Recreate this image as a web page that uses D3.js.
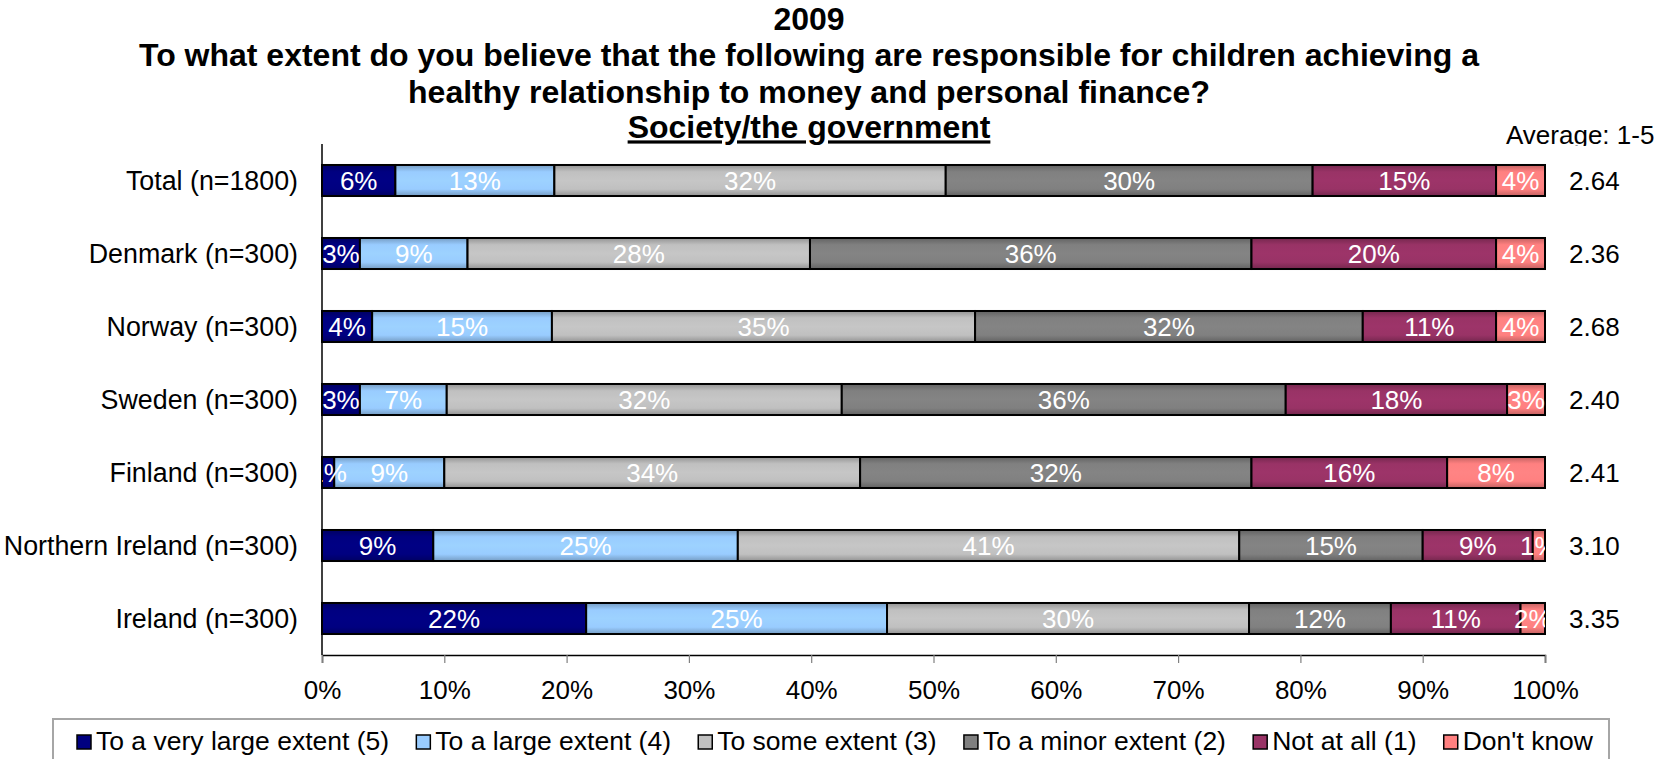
<!DOCTYPE html>
<html>
<head>
<meta charset="utf-8">
<script src="https://cdn.jsdelivr.net/npm/d3@7"></script>
<style>
  html, body { margin: 0; padding: 0; background: #ffffff; }
  svg { display: block; font-family: "Liberation Sans", Arial, sans-serif; }
</style>
</head>
<body>
<svg id="chart" width="1657" height="759"></svg>
<script>
// Survey rows, top to bottom
const categories = [
  "Total (n=1800)",
  "Denmark (n=300)",
  "Norway (n=300)",
  "Sweden (n=300)",
  "Finland (n=300)",
  "Northern Ireland (n=300)",
  "Ireland (n=300)"
];

// Answer options, stacked left to right
const seriesNames = [
  "To a very large extent (5)",
  "To a large extent (4)",
  "To some extent (3)",
  "To a minor extent (2)",
  "Not at all (1)",
  "Don't know"
];

// Share of respondents (%) per answer, one value per row
const veryLarge = [6.0, 3.1, 4.1, 3.1, 1.0, 9.1, 21.6];
const large     = [13.0, 8.8, 14.7, 7.1, 9.0, 24.9, 24.6];
const some      = [32.0, 28.0, 34.6, 32.3, 34.0, 41.0, 29.6];
const minor     = [30.0, 36.1, 31.7, 36.3, 32.0, 15.0, 11.6];
const notAtAll  = [15.0, 20.0, 10.9, 18.1, 16.0, 9.0, 10.6];
const dontKnow  = [4.0, 4.0, 4.0, 3.1, 8.0, 1.0, 2.0];

// Mean score on the 1-5 scale per row
const averages = [2.64, 2.36, 2.68, 2.40, 2.41, 3.10, 3.35];

const xTicks = [0, 10, 20, 30, 40, 50, 60, 70, 80, 90, 100];

const seriesValues = [veryLarge, large, some, minor, notAtAll, dontKnow];
const colors = ["#000080", "#99CCFF", "#C0C0C0", "#808080", "#993366", "#FF8080"];

const rows = categories.map((c, i) => {
  const r = { category: c };
  seriesNames.forEach((s, j) => { r[s] = seriesValues[j][i]; });
  return r;
});

const svg = d3.select("#chart");
const margin = { left: 322, right: 1545, top: 144, bottom: 655 };

const x = d3.scaleLinear().domain([0, 100]).range([margin.left, margin.right]);
const y = d3.scaleBand().domain(categories)
  .range([margin.top, margin.bottom])
  .paddingInner(0.575).paddingOuter(0.2875);

const defs = svg.append("defs");

// Shaded fill for each series: darker top and bottom edges
colors.forEach((c, i) => {
  const g = defs.append("linearGradient")
    .attr("id", "grad" + i)
    .attr("x1", 0).attr("y1", 0).attr("x2", 0).attr("y2", 1);
  const base = d3.color(c);
  g.append("stop").attr("offset", "0%").attr("stop-color", base.darker(0.75));
  g.append("stop").attr("offset", "22%").attr("stop-color", base);
  g.append("stop").attr("offset", "50%").attr("stop-color", d3.color(c).brighter(0.08));
  g.append("stop").attr("offset", "78%").attr("stop-color", base);
  g.append("stop").attr("offset", "100%").attr("stop-color", base.darker(0.75));
});

defs.append("clipPath").attr("id", "plotClip")
  .append("rect")
  .attr("x", margin.left).attr("y", margin.top)
  .attr("width", margin.right - margin.left)
  .attr("height", margin.bottom - margin.top);

defs.append("clipPath").attr("id", "avgClip")
  .append("rect")
  .attr("x", 1400).attr("y", 100).attr("width", 257).attr("height", 46);

// Title block
const title = svg.append("text")
  .attr("text-anchor", "middle")
  .attr("font-weight", "bold")
  .attr("font-size", 32)
  .attr("fill", "#000");
const titleLines = [
  "2009",
  "To what extent do you believe that the following are responsible for children achieving a",
  "healthy relationship to money and personal finance?",
  "Society/the government"
];
const titleBaselines = [29.6, 65.5, 102.5, 138.4];
titleLines.forEach((t, i) => {
  const ts = title.append("tspan").attr("x", 809).attr("y", titleBaselines[i]).text(t);
  if (i === titleLines.length - 1) ts.attr("text-decoration", "underline");
});

// Axis lines
svg.append("line")
  .attr("x1", margin.left).attr("x2", margin.left)
  .attr("y1", margin.top).attr("y2", margin.bottom)
  .attr("stroke", "#000").attr("stroke-width", 1.5);

const xAxis = svg.append("g")
  .attr("transform", `translate(0,${margin.bottom})`)
  .call(d3.axisBottom(x).tickValues(xTicks).tickFormat(d => d + "%").tickSize(8).tickPadding(18));
xAxis.select(".domain").attr("stroke", "#000").attr("stroke-width", 1.5);
xAxis.selectAll(".tick line").attr("stroke", "#808080").attr("stroke-width", 1.2);
xAxis.selectAll(".tick text")
  .attr("font-size", 26).attr("fill", "#000")
  .attr("font-family", "Liberation Sans, Arial, sans-serif");

// Category labels
svg.append("g").selectAll("text")
  .data(categories)
  .join("text")
  .attr("x", 298)
  .attr("y", d => y(d) + y.bandwidth() / 2)
  .attr("dy", "0.35em")
  .attr("text-anchor", "end")
  .attr("font-size", 26.8)
  .attr("fill", "#000")
  .text(d => d);

// Stacked bars
const stack = d3.stack().keys(seriesNames);
const stacked = stack(rows);

const barLayer = svg.append("g");
stacked.forEach((layer, si) => {
  barLayer.append("g").selectAll("rect")
    .data(layer)
    .join("rect")
    .attr("x", d => x(d[0]))
    .attr("y", d => y(d.data.category))
    .attr("width", d => x(d[1]) - x(d[0]))
    .attr("height", y.bandwidth())
    .attr("fill", `url(#grad${si})`)
    .attr("stroke", "#000")
    .attr("stroke-width", 2);
});

// Segment value labels, clipped to the plot area
const fmt = d3.format(".0f");
const labelLayer = svg.append("g").attr("clip-path", "url(#plotClip)");
stacked.forEach((layer) => {
  labelLayer.append("g").selectAll("text")
    .data(layer)
    .join("text")
    .attr("x", d => x((d[0] + d[1]) / 2))
    .attr("y", d => y(d.data.category) + y.bandwidth() / 2)
    .attr("dy", "0.35em")
    .attr("text-anchor", "middle")
    .attr("font-size", 26)
    .attr("fill", "#ffffff")
    .text(d => fmt(d[1] - d[0]) + "%");
});

// Average score column
svg.append("text")
  .attr("x", 1506).attr("y", 144)
  .attr("font-size", 26).attr("fill", "#000")
  .attr("clip-path", "url(#avgClip)")
  .text("Average: 1-5");

svg.append("g").selectAll("text")
  .data(averages)
  .join("text")
  .attr("x", 1569)
  .attr("y", (d, i) => y(categories[i]) + y.bandwidth() / 2)
  .attr("dy", "0.35em")
  .attr("font-size", 26)
  .attr("fill", "#000")
  .text(d => d3.format(".2f")(d));

// Legend
const legendBox = { x: 53, y: 719, w: 1556, h: 60 };
svg.append("rect")
  .attr("x", legendBox.x).attr("y", legendBox.y)
  .attr("width", legendBox.w).attr("height", legendBox.h)
  .attr("fill", "#fff").attr("stroke", "#a6a6a6").attr("stroke-width", 2);

const legend = svg.append("g");
const items = legend.selectAll("g").data(seriesNames).join("g");
items.append("rect")
  .attr("width", 14).attr("height", 14)
  .attr("y", 735)
  .attr("fill", (d, i) => colors[i])
  .attr("stroke", "#000").attr("stroke-width", 1.5);
items.append("text")
  .attr("y", 750)
  .attr("font-size", 26.5)
  .attr("fill", "#000")
  .text(d => d);

// Spread the entries across the legend's inner span
const markerGap = 19;
const spanStart = 77, spanEnd = 1593;
const widths = [];
items.select("text").each(function () { widths.push(this.getComputedTextLength()); });
const itemGap = (spanEnd - spanStart - d3.sum(widths) - widths.length * markerGap) / (widths.length - 1);
let cx = spanStart;
items.each(function (d, i) {
  const g = d3.select(this);
  g.select("rect").attr("x", cx);
  g.select("text").attr("x", cx + markerGap);
  cx += markerGap + widths[i] + itemGap;
});
</script>
</body>
</html>
